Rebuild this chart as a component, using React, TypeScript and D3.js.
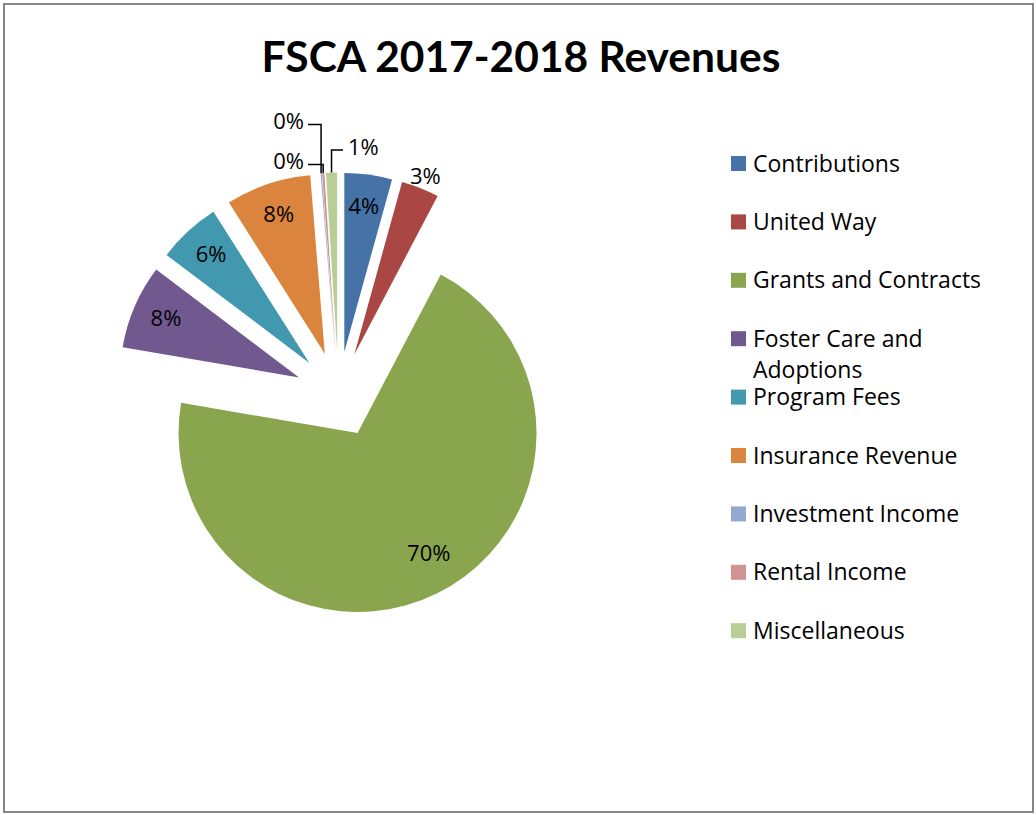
import React from "react";
import * as d3 from "d3";

const categories = [
  "Contributions",
  "United Way",
  "Grants and Contracts",
  "Foster Care and Adoptions",
  "Program Fees",
  "Insurance Revenue",
  "Investment Income",
  "Rental Income",
  "Miscellaneous",
];
const values = [4.3, 3.4, 70.0, 7.6, 5.7, 7.7, 0.1, 0.2, 1.0];
const colors = [
  "#4572A7",
  "#AA4643",
  "#89A54E",
  "#71588F",
  "#4198AF",
  "#DB843D",
  "#93A9CF",
  "#D19392",
  "#B9CD96",
];
const legendLines = [
  ["Contributions"],
  ["United Way"],
  ["Grants and Contracts"],
  ["Foster Care and", "Adoptions"],
  ["Program Fees"],
  ["Insurance Revenue"],
  ["Investment Income"],
  ["Rental Income"],
  ["Miscellaneous"],
];
const title = "FSCA 2017-2018 Revenues";

const W = 1036;
const H = 815;
const TITLE_FONT = "Lato, 'Open Sans', 'Noto Sans', sans-serif";
const FONT = "'Open Sans', Lato, 'Noto Sans', sans-serif";

export default function App() {
  const cx = 338.5;
  const cy = 394.5;
  const R = 179;
  const explode = 43;

  const total = d3.sum(values);
  const pie = d3
    .pie<number>()
    .sort(null)
    .value((d) => d)
    .startAngle(0)
    .endAngle(2 * Math.PI);
  const arcs = pie(values);
  const arcGen = d3.arc<d3.PieArcDatum<number>>().innerRadius(0).outerRadius(R);

  // leader-line layout for tiny slices (offsets relative to pie centre)
  const leaderLayout: Record<string, { elbowDy: number; side: "left" | "right" }> = {
    "Investment Income": { elbowDy: -270, side: "left" },
    "Rental Income": { elbowDy: -230, side: "left" },
    Miscellaneous: { elbowDy: -244.5, side: "right" },
  };
  // small manual nudges of inside labels (layout only)
  const labelNudge: Record<string, [number, number]> = {
    "Grants and Contracts": [7, -11],
  };

  const legendX = 731;
  const legendY0 = 163.5;
  const legendStep = 58.4;

  return (
    <svg
      width={W}
      height={H}
      style={{ position: "absolute", left: 0, top: 0, background: "#fff" }}
      fontFamily={FONT}
    >
      <rect x={0} y={0} width={W} height={H} fill="#fff" />
      <rect
        x={4}
        y={4}
        width={1029}
        height={808}
        fill="none"
        stroke="#868686"
        strokeWidth={2}
      />
      <text
        x={521}
        y={72}
        textAnchor="middle"
        fontSize={42.5}
        fontWeight="bold"
        fontFamily={TITLE_FONT}
        fill="#000"
      >
        {title}
      </text>

      <g>
        {arcs.map((a, i) => {
          const mid = (a.startAngle + a.endAngle) / 2;
          const dx = explode * Math.sin(mid);
          const dy = -explode * Math.cos(mid);
          return (
            <path
              key={categories[i]}
              d={arcGen(a) || ""}
              transform={`translate(${cx + dx},${cy + dy})`}
              fill={colors[i]}
            />
          );
        })}
      </g>

      <g fontSize={22} fill="#000">
        {arcs.map((a, i) => {
          const mid = (a.startAngle + a.endAngle) / 2;
          const sx = Math.sin(mid);
          const sy = -Math.cos(mid);
          const pct = d3.format(".0%")(values[i] / total);
          const ax = cx + explode * sx;
          const ay = cy + explode * sy;
          if (values[i] >= 4) {
            const rr = R * 0.81;
            const nudge = labelNudge[categories[i]] || [0, -3];
            return (
              <text
                key={categories[i]}
                x={ax + rr * sx + nudge[0]}
                y={ay + rr * sy + nudge[1]}
                textAnchor="middle"
                dominantBaseline="central"
              >
                {pct}
              </text>
            );
          }
          const lay = leaderLayout[categories[i]];
          if (!lay) {
            const rr = R + explode + 14;
            return (
              <text
                key={categories[i]}
                x={cx + rr * sx}
                y={cy + rr * sy}
                textAnchor="middle"
                dominantBaseline="central"
              >
                {pct}
              </text>
            );
          }
          const ox = ax + R * sx;
          const oy = ay + R * sy;
          const ey = cy + lay.elbowDy;
          const lx = lay.side === "left" ? cx - 30.5 : cx + 4.5;
          const tx = lay.side === "left" ? lx - 4 : lx + 5;
          return (
            <g key={categories[i]}>
              <polyline
                points={`${ox},${oy} ${ox},${ey} ${lx},${ey}`}
                fill="none"
                stroke="#000"
                strokeWidth={1.5}
              />
              <text
                x={tx}
                y={ey - 4.5}
                textAnchor={lay.side === "left" ? "end" : "start"}
                dominantBaseline="central"
              >
                {pct}
              </text>
            </g>
          );
        })}
      </g>

      <g fontSize={23} fill="#000">
        {categories.map((c, i) => {
          const yc = legendY0 + legendStep * i;
          return (
            <g key={c}>
              <rect x={legendX} y={yc - 7.5} width={15} height={15} fill={colors[i]} />
              {legendLines[i].map((ln, j) => (
                <text
                  key={ln}
                  x={753}
                  y={yc - 1 + j * 31}
                  dominantBaseline="central"
                >
                  {ln}
                </text>
              ))}
            </g>
          );
        })}
      </g>
    </svg>
  );
}
